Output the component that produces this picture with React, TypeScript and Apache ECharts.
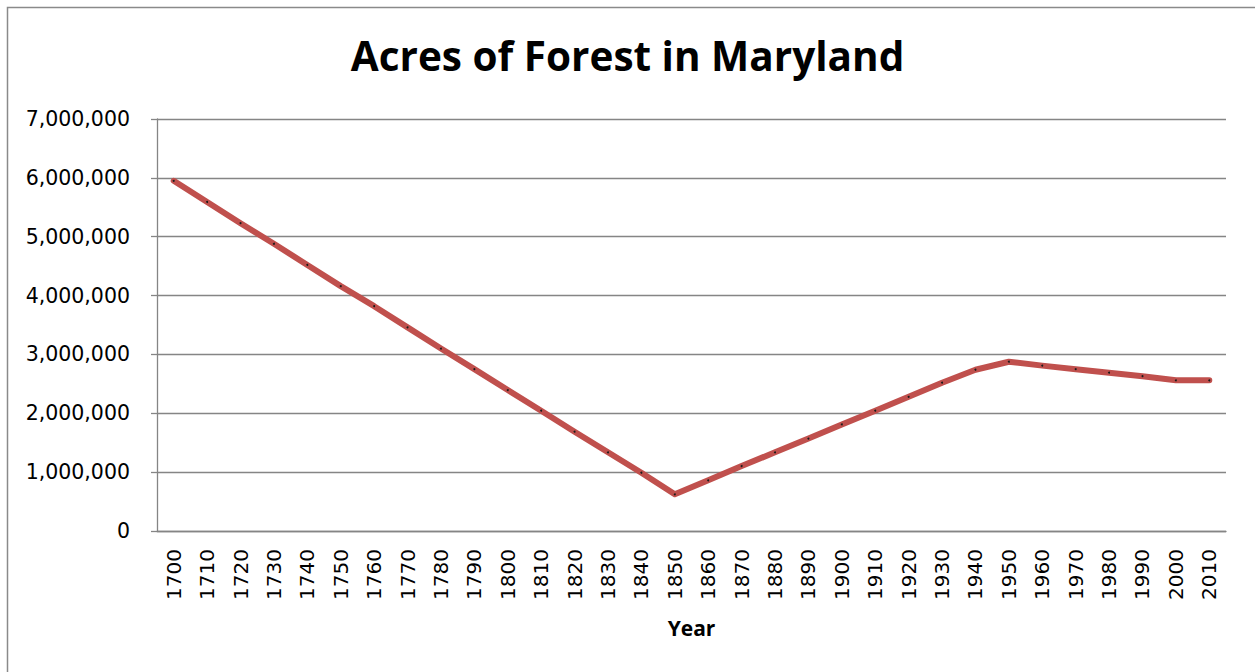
import React, { useEffect, useRef } from "react";
import * as echarts from "echarts";

// Decades along the x axis
const years = [
  "1700", "1710", "1720", "1730", "1740", "1750", "1760", "1770",
  "1780", "1790", "1800", "1810", "1820", "1830", "1840", "1850",
  "1860", "1870", "1880", "1890", "1900", "1910", "1920", "1930",
  "1940", "1950", "1960", "1970", "1980", "1990", "2000", "2010",
];

// Forested acreage for each decade
const acres = [
  5950000, 5590000, 5230000, 4880000, 4520000, 4160000, 3820000, 3460000,
  3100000, 2750000, 2395000, 2044000, 1687000, 1337000, 990000, 623000,
  861000, 1104000, 1337000, 1570000, 1810000, 2044000, 2280000, 2520000,
  2740000, 2876000, 2810000, 2750000, 2690000, 2630000, 2560000, 2560000,
];

const titleText = "Acres of Forest in Maryland";
const xAxisName = "Year";

const GRID = "#858585";
const LINE = "#C0504D";

export default function App() {
  const ref = useRef<HTMLDivElement>(null);

  useEffect(() => {
    if (!ref.current) return;
    const chart = echarts.init(ref.current, null, { renderer: "svg" });
    chart.setOption({
      animation: false,
      backgroundColor: "#ffffff",
      title: {
        text: titleText,
        left: "center",
        top: 30,
        textStyle: {
          fontFamily: "Open Sans",
          fontWeight: "bold",
          fontSize: 40.5,
          color: "#000000",
        },
      },
      graphic: [
        {
          type: "rect",
          shape: { x: 7.5, y: 7.5, width: 1270, height: 700 },
          style: { fill: "none", stroke: "#8a8a8a", lineWidth: 1.5 },
          silent: true,
        },
      ],
      grid: { left: 157, top: 119, right: 29, bottom: 141, containLabel: false },
      xAxis: {
        type: "category",
        data: years,
        boundaryGap: true,
        name: xAxisName,
        nameLocation: "middle",
        nameGap: 86,
        nameTextStyle: {
          fontFamily: "Open Sans",
          fontWeight: "bold",
          fontSize: 21,
          color: "#000000",
        },
        axisLine: { show: true, lineStyle: { color: GRID, width: 1.3 } },
        axisTick: { show: false },
        axisLabel: {
          rotate: 90,
          margin: 18,
          interval: 0,
          fontFamily: "DejaVu Sans",
          fontSize: 20,
          color: "#000000",
        },
        splitLine: { show: false },
      },
      yAxis: {
        type: "value",
        min: 0,
        max: 7000000,
        interval: 1000000,
        axisLine: { show: true, lineStyle: { color: GRID, width: 1.3 } },
        axisTick: { show: true, length: 6, lineStyle: { color: GRID, width: 1.3 } },
        axisLabel: {
          margin: 27,
          fontFamily: "DejaVu Sans",
          fontSize: 20.5,
          color: "#000000",
          formatter: (v: number) => v.toLocaleString("en-US"),
        },
        splitLine: { show: true, lineStyle: { color: GRID, width: 1.3 } },
      },
      series: [
        {
          type: "line",
          data: acres,
          showSymbol: true,
          symbol: "circle",
          symbolSize: 2,
          itemStyle: { color: "#1a1a1a", borderWidth: 0 },
          lineStyle: { color: LINE, width: 6, cap: "round", join: "round" },
          z: 3,
        },
      ],
    });
    return () => chart.dispose();
  }, []);

  return (
    <div
      ref={ref}
      style={{ position: "fixed", left: 0, top: 0, width: 1255, height: 672 }}
    />
  );
}
